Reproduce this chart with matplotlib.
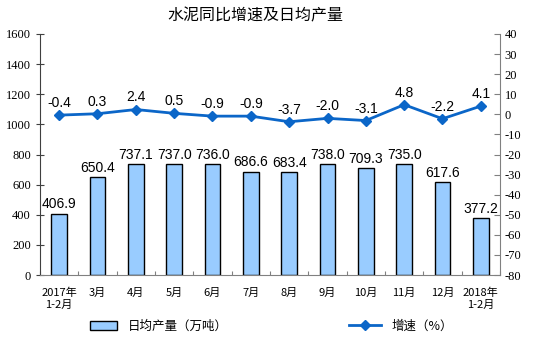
import matplotlib
matplotlib.use("Agg")
import matplotlib.pyplot as plt
from matplotlib.lines import Line2D
import numpy as np

plt.rcParams['font.family'] = ['Noto Sans CJK SC', 'DejaVu Sans']
plt.rcParams['axes.unicode_minus'] = False

months = ["2017年\n1-2月", "3月", "4月", "5月", "6月", "7月", "8月", "9月",
          "10月", "11月", "12月", "2018年\n1-2月"]
daily_output = [406.9, 650.4, 737.1, 737.0, 736.0, 686.6, 683.4, 738.0,
                709.3, 735.0, 617.6, 377.2]
growth = [-0.4, 0.3, 2.4, 0.5, -0.9, -0.9, -3.7, -2.0, -3.1, 4.8, -2.2, 4.1]

bar_color = "#99CCFF"
line_color = "#0B66C8"
num_font = "Liberation Sans"
tick_font = "Liberation Serif"

fig = plt.figure(figsize=(5.38, 3.42), dpi=100)
ax = fig.add_axes([40 / 538, 1 - 275 / 342, 460 / 538, 241 / 342])
x = np.arange(len(months))

ax.bar(x, daily_output, width=0.41, color=bar_color, edgecolor="black", linewidth=1.0)
for xi, v in zip(x, daily_output):
    ax.text(xi, v + 15, f"{v:.1f}", ha="center", va="bottom", fontsize=10,
            family=num_font)

ax.set_xlim(-0.5, len(months) - 0.5)
ax.set_ylim(0, 1600)
ax.set_yticks(np.arange(0, 1601, 200))
# category boundaries get the small tick marks, centres carry the labels
ax.set_xticks(np.arange(-0.5, len(months), 1.0))
ax.set_xticklabels([])
ax.tick_params(axis="x", direction="in", length=3, color="#808080")
ax.set_xticks(x, minor=True)
ax.set_xticklabels(months, minor=True, fontsize=8)
ax.tick_params(axis="x", which="minor", length=0, pad=9)
ax.tick_params(axis="y", direction="inout", length=6, labelsize=9, color="#404040")
for lab in ax.get_yticklabels():
    lab.set_family(tick_font)
for s in ["top", "right"]:
    ax.spines[s].set_visible(False)
ax.spines["left"].set_color("#404040")
ax.spines["bottom"].set_color("#808080")

ax2 = ax.twinx()
ax2.plot(x, growth, color=line_color, linewidth=2, marker="D", markersize=5)
for xi, v in zip(x, growth):
    ax2.text(xi, v + 2.5, f"{v:.1f}", ha="center", va="bottom", fontsize=10,
             family=num_font)
ax2.set_ylim(-80, 40)
ax2.set_yticks(np.arange(-80, 41, 10))
ax2.tick_params(axis="y", direction="in", length=4, labelsize=9, color="#808080")
for lab in ax2.get_yticklabels():
    lab.set_family(tick_font)
for s in ["top", "left", "bottom"]:
    ax2.spines[s].set_visible(False)
ax2.spines["right"].set_color("#808080")

fig.text(0.475, 1 - 16 / 342, "水泥同比增速及日均产量", ha="center", va="center",
         fontsize=11.5)

bar_handle = plt.Rectangle((0, 0), 1, 1, facecolor=bar_color, edgecolor="black")
line_handle = Line2D([], [], color=line_color, linewidth=2, marker="D", markersize=5)
fig.legend([bar_handle], ["日均产量（万吨）"], loc="center", bbox_to_anchor=(0.295, 1 - 326 / 342),
           frameon=False, fontsize=9, handlelength=2.2)
fig.legend([line_handle], ["增速（%）"], loc="center", bbox_to_anchor=(0.745, 1 - 326 / 342),
           frameon=False, fontsize=9, handlelength=2.6)

fig.savefig("out.png", dpi=100)
